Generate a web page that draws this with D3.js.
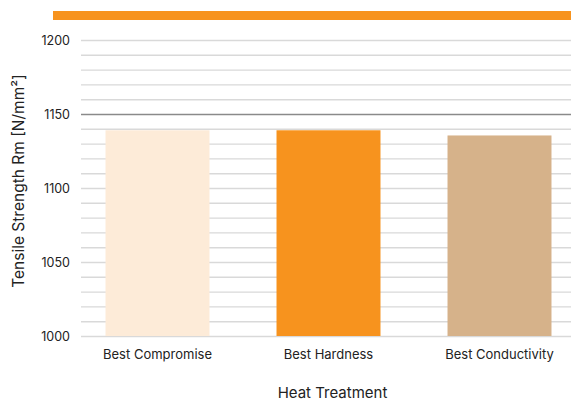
<!DOCTYPE html>
<html><head><meta charset="utf-8">
<script src="https://cdn.jsdelivr.net/npm/d3@7"></script>
<style>body{margin:0;background:#fff}svg{display:block}text{font-family:Inter,"Noto Sans",sans-serif;fill:#222}</style>
</head><body><svg id="c" width="571" height="404"></svg>
<script>
(function(){
const categories = ["Best Compromise", "Best Hardness", "Best Conductivity"];
const values = [1139, 1139, 1135.5];
const colors = ["#fdebd8", "#f7931e", "#d6b28a"];
const tickValues = [1000, 1050, 1100, 1150, 1200];
const yTitle = "Tensile Strength Rm [N/mm²]";
const xTitle = "Heat Treatment";

const svg = d3.select("#c");
const plotLeft = 81, plotRight = 571, plotTop = 40, plotBottom = 336;
const y = d3.scaleLinear().domain([1000, 1200]).range([plotBottom, plotTop]);
const x = d3.scaleBand().domain(categories).range([72, 585]).paddingInner(0.392).paddingOuter(0.196);

svg.append("rect").attr("x", 53).attr("y", 11).attr("width", 518).attr("height", 9).attr("fill", "#f7931e");

const minor = d3.range(1000, 1201, 10);
svg.append("g").selectAll("line").data(minor).join("line")
  .attr("x1", plotLeft).attr("x2", plotRight)
  .attr("y1", d => y(d) + 0.5).attr("y2", d => y(d) + 0.5)
  .attr("stroke", d => d === 1150 ? "#8a8a8a" : "#d9d9d9").attr("stroke-width", 1.4);

svg.append("g").selectAll("rect").data(categories).join("rect")
  .attr("x", d => x(d)).attr("width", x.bandwidth())
  .attr("y", (d, i) => y(values[i])).attr("height", (d, i) => y(1000) - y(values[i]))
  .attr("fill", (d, i) => colors[i]);

const yAxis = svg.append("g").attr("transform", `translate(${plotLeft},0)`)
  .call(d3.axisLeft(y).tickValues(tickValues).tickSize(0).tickPadding(11).tickFormat(d3.format("d")));
yAxis.select(".domain").remove();
yAxis.selectAll("text").attr("font-size", 12.5).attr("fill", "#222").attr("font-family", "Inter, 'Noto Sans', sans-serif");

const xAxis = svg.append("g").attr("transform", `translate(0,${plotBottom})`)
  .call(d3.axisBottom(x).tickSize(0).tickPadding(14));
xAxis.select(".domain").remove();
xAxis.selectAll("text").attr("font-size", 13).attr("fill", "#222").attr("font-family", "Inter, 'Noto Sans', sans-serif");

svg.append("text").attr("x", 332.5).attr("y", 398).attr("text-anchor", "middle")
  .attr("font-size", 15).text(xTitle);
svg.append("text").attr("transform", "translate(24,181) rotate(-90)").attr("text-anchor", "middle")
  .attr("font-family", "'Liberation Sans', Arial, sans-serif")
  .attr("font-size", 15.5).text(yTitle);
})();
</script></body></html>
